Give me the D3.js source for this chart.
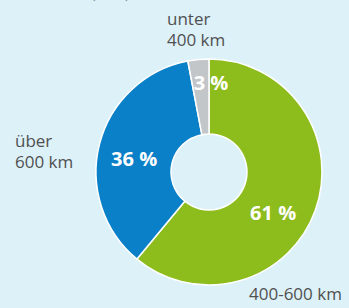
<!DOCTYPE html>
<html><head><meta charset="utf-8">
<script src="https://cdn.jsdelivr.net/npm/d3@7"></script>
<style>html,body{margin:0;padding:0;background:#ddf1f9;}svg{display:block;}</style>
</head><body>
<svg id="c" width="349" height="308"></svg>
<script>
const categories = ["400-600 km", "über 600 km", "unter 400 km"];
const labelLines = [["400-600 km"], ["über", "600 km"], ["unter", "400 km"]];
const values = [61, 36, 3];
const colors = ["#8dbc1d", "#0a80c8", "#c2c6c9"];

const svg = d3.select("#c");
const cx = 209, cy = 172, R = 113, r0 = 38;
const g = svg.append("g").attr("transform", `translate(${cx},${cy})`);

svg.append("text").attr("x", 12).attr("y", -2).attr("font-family", "Open Sans")
  .attr("font-size", 15).attr("fill", "#6f8894").text("Reichweite (in %)");

const pie = d3.pie().sort(null).value(d => d)(values);
const arc = d3.arc().innerRadius(r0).outerRadius(R);
g.selectAll("path").data(pie).join("path")
  .attr("d", arc).attr("fill", (d, i) => colors[i])
  .attr("stroke", "#ffffff").attr("stroke-width", 1.5);

// percent labels
const nudges = [0.22, -0.08, 0];
g.selectAll("text.pct").data(pie).join("text").attr("class", "pct")
  .each(function (d, i) {
    const small = d.data < 10;
    const a = small ? d.endAngle : (d.startAngle + d.endAngle) / 2 + nudges[i];
    const rr = small ? 89 : 76;
    d3.select(this).attr("x", Math.sin(a) * rr + (small ? 2 : 0)).attr("y", -Math.cos(a) * rr);
  })
  .attr("text-anchor", "middle").attr("dy", "0.36em")
  .attr("font-family", "Open Sans").attr("font-weight", "bold").attr("font-size", 20)
  .attr("fill", "#ffffff").text(d => d.data + " %");

// category labels
const catPos = [[249, 300], [15, 147], [167, 25]];
labelLines.forEach((lines, i) => {
  const t = svg.append("text").attr("font-family", "Open Sans").attr("font-size", 17).attr("fill", "#505050");
  lines.forEach((l, j) => t.append("tspan").attr("x", catPos[i][0]).attr("y", catPos[i][1] + j * 21).text(l));
});
</script>
</body></html>
